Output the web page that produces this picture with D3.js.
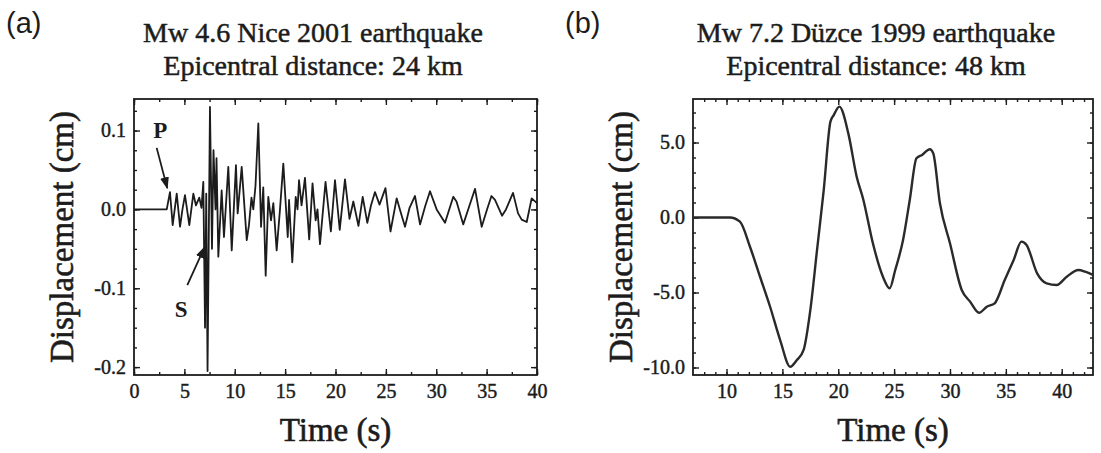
<!DOCTYPE html>
<html>
<head>
<meta charset="utf-8">
<script src="https://cdn.jsdelivr.net/npm/d3@7"></script>
<style>
  body { margin: 0; background: #fff; }
  svg { display: block; }
</style>
</head>
<body>
<svg id="fig" width="1101" height="453"></svg>
<script>
// Nice 2001 record: time (s) and displacement (cm)
const niceTime = [
  0, 3.25, 3.57, 3.84, 4.24, 4.57, 4.81, 5.06, 5.49, 5.89,
  6.15, 6.48, 6.70, 6.88, 7.05, 7.17, 7.30, 7.54, 7.74, 7.89,
  8.09, 8.19, 8.37, 8.70, 8.93, 9.36, 9.70, 10.12, 10.29, 10.69,
  11.19, 11.41, 11.66, 11.84, 12.06, 12.34, 12.61, 12.83, 13.07, 13.33,
  13.60, 13.83, 14.16, 14.49, 14.82, 15.26, 15.39, 15.71, 16.05, 16.23,
  16.38, 16.63, 16.97, 17.39, 17.72, 18.03, 18.21, 18.46, 19.01, 19.54,
  19.95, 20.42, 20.94, 21.39, 21.77, 22.28, 22.70, 23.16, 23.52, 23.92,
  24.37, 24.96, 25.46, 26.07, 26.50, 26.90, 27.35, 27.89, 28.39, 28.90,
  29.38, 30.04, 30.87, 31.69, 32.01, 32.68, 33.30, 33.85, 34.51, 35.04,
  35.48, 35.83, 36.53, 36.92, 37.62, 38.12, 38.48, 38.98, 39.47, 40.00
];
const niceDisp = [
  0, 0, 0.022, -0.020, 0.020, -0.022, 0.000, 0.018, -0.020, 0.020,
  0.005, 0.015, 0.002, 0.035, -0.150, 0.020, -0.205, 0.130, -0.050, 0.075,
  0.000, 0.065, -0.060, 0.024, -0.035, 0.054, -0.052, 0.056, -0.005, 0.054,
  -0.039, -0.020, 0.015, 0.000, 0.030, 0.109, -0.022, 0.028, -0.084, 0.016,
  -0.014, 0.008, -0.052, 0.000, 0.058, -0.035, 0.012, -0.067, 0.016, 0.000,
  0.037, 0.005, 0.040, -0.038, 0.033, -0.014, 0.000, -0.044, 0.035, -0.028,
  0.037, -0.026, 0.038, -0.012, 0.010, -0.021, 0.016, -0.017, 0.005, 0.022,
  0.006, 0.027, -0.028, 0.014, -0.005, -0.022, 0.002, 0.017, -0.019, 0.004,
  0.023, 0.000, -0.017, 0.016, 0.010, -0.019, 0.005, 0.026, -0.022, 0.000,
  0.017, 0.012, -0.008, 0.000, 0.021, -0.005, -0.013, -0.016, 0.014, 0.008
];

// Düzce 1999 record: time (s) and displacement (cm)
const duzceTime = [
  7, 10.3, 11.2, 12.1, 13.0, 13.9, 14.8, 15.7, 16.3, 16.9,
  17.5, 18.1, 18.7, 19.3, 19.6, 20.1, 20.9, 21.65, 22.25, 23.1,
  24.0, 24.6, 25.1, 25.8, 26.4, 27.0, 27.5, 28.2, 28.5, 29.1,
  30.0, 31.05, 31.8, 32.6, 33.3, 34.0, 34.9, 35.7, 36.4, 36.85,
  37.8, 38.65, 39.55, 40.45, 41.5, 42.1, 42.8
];
const duzceDisp = [
  0, 0, -0.28, -1.95, -3.95, -5.95, -8.17, -9.95, -9.5, -8.83,
  -6.17, -2.17, 1.83, 6.39, 6.83, 7.39, 5.61, 2.72, 1.17, -1.72,
  -3.95, -4.72, -3.5, -1.5, 1.17, 3.95, 4.17, 4.55, 4.28, 0.95,
  -1.72, -4.83, -5.61, -6.35, -5.95, -5.72, -4.17, -2.83, -1.61, -1.83,
  -3.72, -4.39, -4.5, -3.95, -3.5, -3.61, -3.83
];

// Tick values
const niceTimeTicks = [0, 5, 10, 15, 20, 25, 30, 35, 40];
const niceDispTicks = [-0.2, -0.1, 0.0, 0.1];
const duzceTimeTicks = [10, 15, 20, 25, 30, 35, 40];
const duzceDispTicks = [-10, -5, 0, 5];

// Text
const panelTags = ["(a)", "(b)"];
const niceTitle = ["Mw 4.6 Nice 2001 earthquake", "Epicentral distance: 24 km"];
const duzceTitle = ["Mw 7.2 Düzce 1999 earthquake", "Epicentral distance: 48 km"];
const xLabel = "Time (s)";
const yLabel = "Displacement (cm)";

const svg = d3.select("#fig");
const ink = "#1c1c1c";
const serif = "'Liberation Serif', 'Times New Roman', serif";
const sans = "'Liberation Sans', Arial, sans-serif";
const oneDecimal = d => d.toFixed(1);   // plain hyphen for negatives

svg.append("defs").append("marker")
  .attr("id", "head")
  .attr("viewBox", "0 0 10 10")
  .attr("refX", 9).attr("refY", 5)
  .attr("markerWidth", 12).attr("markerHeight", 12)
  .attr("markerUnits", "userSpaceOnUse")
  .attr("orient", "auto")
  .append("path").attr("d", "M0,1.3 L10,5 L0,8.7 Z").attr("fill", ink);

// heavier serif text, as in the printed figure
function serifText(sel, size, weight) {
  return sel.style("font-family", serif).style("font-size", size + "px")
    .attr("fill", ink).attr("stroke", ink).attr("stroke-width", weight);
}

function drawPanel(o) {
  const x = d3.scaleLinear().domain(o.xDomain).range([o.left, o.right]);
  const y = d3.scaleLinear().domain(o.yDomain).range([o.bottom, o.top]);
  const g = svg.append("g");

  const addAxis = (axis, tx, ty, labelled) => {
    const a = g.append("g").attr("transform", `translate(${tx},${ty})`).call(axis);
    a.select(".domain").remove();
    a.selectAll(".tick line").attr("stroke", ink).attr("stroke-width", 1.4);
    if (labelled) serifText(a.selectAll(".tick text"), 20, 0.45);
    return a;
  };

  // ticks point inward on all four sides; labels only on bottom and left
  addAxis(d3.axisBottom(x).tickValues(o.xMinor).tickSize(-3).tickFormat(""), 0, o.bottom);
  addAxis(d3.axisTop(x).tickValues(o.xMinor).tickSize(-3).tickFormat(""), 0, o.top);
  addAxis(d3.axisLeft(y).tickValues(o.yMinor).tickSize(-3).tickFormat(""), o.left, 0);
  addAxis(d3.axisRight(y).tickValues(o.yMinor).tickSize(-3).tickFormat(""), o.right, 0);
  addAxis(d3.axisBottom(x).tickValues(o.xTicks).tickSize(-6).tickPadding(9).tickFormat(d3.format("d")), 0, o.bottom, true);
  addAxis(d3.axisTop(x).tickValues(o.xTicks).tickSize(-6).tickFormat(""), 0, o.top);
  addAxis(d3.axisLeft(y).tickValues(o.yTicks).tickSize(-6).tickPadding(8).tickFormat(o.yFormat), o.left, 0, true);
  addAxis(d3.axisRight(y).tickValues(o.yTicks).tickSize(-6).tickFormat(""), o.right, 0);

  // frame
  g.append("rect")
    .attr("x", o.left).attr("y", o.top)
    .attr("width", o.right - o.left).attr("height", o.bottom - o.top)
    .attr("fill", "none").attr("stroke", ink).attr("stroke-width", 1.8);

  // trace
  const pts = o.time.map((t, i) => [t, o.disp[i]]);
  g.append("path")
    .datum(pts)
    .attr("fill", "none")
    .attr("stroke", o.color)
    .attr("stroke-width", o.width)
    .attr("stroke-linejoin", "round")
    .attr("d", d3.line().x(d => x(d[0])).y(d => y(d[1])).curve(o.curve));

  // titles
  serifText(g.append("text").attr("x", o.titleX).attr("y", 42).attr("text-anchor", "middle"), 28, 0.5)
    .text(o.title[0]);
  serifText(g.append("text").attr("x", o.titleX).attr("y", 75).attr("text-anchor", "middle"), 28, 0.5)
    .text(o.title[1]);

  g.append("text").attr("x", o.tagX).attr("y", 33)
    .style("font-family", sans).style("font-size", "29px").attr("fill", ink).text(o.tag);

  // axis titles
  serifText(g.append("text").attr("x", (o.left + o.right) / 2).attr("y", 441)
    .attr("text-anchor", "middle"), 33, 0.6).text(xLabel);
  serifText(g.append("text")
    .attr("transform", `translate(${o.yLabelX},${(o.top + o.bottom) / 2}) rotate(-90)`)
    .attr("text-anchor", "middle"), 33, 0.6).text(yLabel);

  return { x, y, g };
}

// (a) Nice 2001
const pa = drawPanel({
  left: 134, right: 537, top: 99, bottom: 375,
  xDomain: [0, 40], yDomain: [-0.21, 0.14],
  xTicks: niceTimeTicks, xMinor: d3.range(0, 40.01, 2.5),
  yTicks: niceDispTicks, yMinor: d3.range(-0.2, 0.1401, 0.025),
  yFormat: oneDecimal,
  time: niceTime, disp: niceDisp,
  curve: d3.curveLinear, color: ink, width: 1.8,
  title: niceTitle, titleX: 313, tag: panelTags[0], tagX: 6,
  yLabelX: 73
});

// P and S arrival markers
const annot = [
  { label: "P", lx: 2.6, ly: 0.090, from: [2.25, 0.078], to: [3.3, 0.027] },
  { label: "S", lx: 4.67, ly: -0.137, from: [5.29, -0.096], to: [7.0, -0.048] }
];
annot.forEach(a => {
  pa.g.append("text")
    .attr("x", pa.x(a.lx)).attr("y", pa.y(a.ly))
    .attr("text-anchor", "middle")
    .style("font-family", serif).style("font-size", "23px").style("font-weight", "bold")
    .attr("fill", ink).text(a.label);
  pa.g.append("line")
    .attr("x1", pa.x(a.from[0])).attr("y1", pa.y(a.from[1]))
    .attr("x2", pa.x(a.to[0])).attr("y2", pa.y(a.to[1]))
    .attr("stroke", ink).attr("stroke-width", 1.8)
    .attr("marker-end", "url(#head)");
});

// (b) Düzce 1999
drawPanel({
  left: 693, right: 1093, top: 99, bottom: 375,
  xDomain: [7, 42.8], yDomain: [-10.5, 7.9],
  xTicks: duzceTimeTicks, xMinor: d3.range(8, 42.8, 1),
  yTicks: duzceDispTicks, yMinor: d3.range(-10, 7.9, 1),
  yFormat: oneDecimal,
  time: duzceTime, disp: duzceDisp,
  curve: d3.curveMonotoneX, color: "#2a2a2a", width: 2.4,
  title: duzceTitle, titleX: 876, tag: panelTags[1], tagX: 565,
  yLabelX: 632
});
</script>
</body>
</html>
